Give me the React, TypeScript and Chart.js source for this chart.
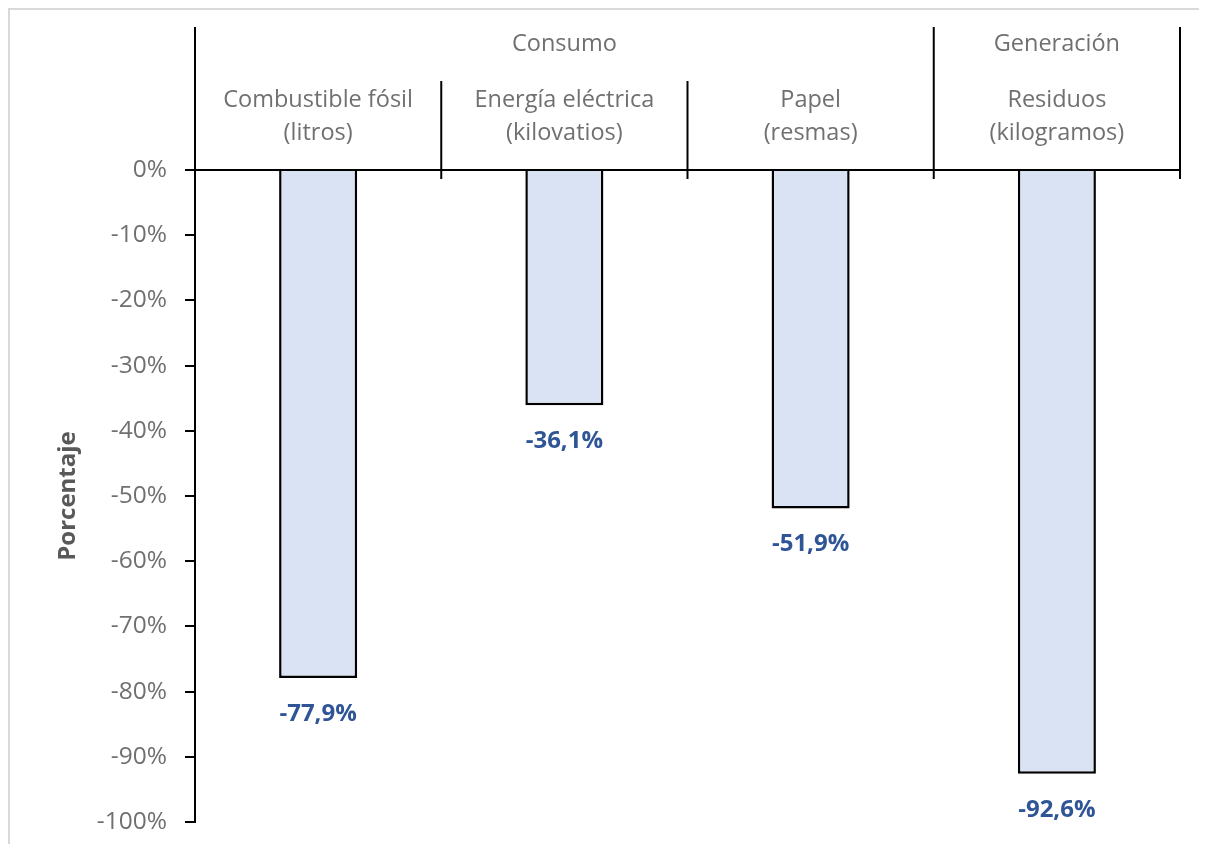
import React, { useEffect, useRef } from "react";
import { Chart, registerables } from "chart.js";

Chart.register(...registerables);

const groupLabels = ["Consumo", "Generación"];
const groupSpans = [3, 1];
const categoryLabels = [
  ["Combustible fósil", "(litros)"],
  ["Energía eléctrica", "(kilovatios)"],
  ["Papel", "(resmas)"],
  ["Residuos", "(kilogramos)"],
];
const values = [-77.9, -36.1, -51.9, -92.6];
const yTicks = [0, -10, -20, -30, -40, -50, -60, -70, -80, -90, -100];

const FONT = "'Open Sans', sans-serif";
const GRAY = "#707070";
const LABEL_BLUE = "#2F5597";

export default function App() {
  const ref = useRef<HTMLCanvasElement | null>(null);

  useEffect(() => {
    if (!ref.current) return;
    const decor = {
      id: "decor",
      afterDraw(chart: any) {
        const { ctx, chartArea } = chart;
        const ys = chart.scales.y;
        const xs = chart.scales.x;
        const left = chartArea.left;
        const right = chartArea.right;
        const n = categoryLabels.length;
        const w = (right - left) / n;
        const y0 = ys.getPixelForValue(0);
        ctx.save();
        ctx.strokeStyle = "#000";
        ctx.lineWidth = 2;
        ctx.lineCap = "butt";
        // extend y axis up
        ctx.beginPath();
        ctx.moveTo(left, 17);
        ctx.lineTo(left, chartArea.bottom + 1);
        ctx.stroke();
        // horizontal axis line at 0
        ctx.beginPath();
        ctx.moveTo(left - 10, y0);
        ctx.lineTo(right, y0);
        ctx.stroke();
        // category separators
        let acc = 0;
        const groupEnds = groupSpans.map((s) => (acc += s));
        for (let i = 1; i <= n; i++) {
          const x = left + i * w;
          const isGroup = groupEnds.includes(i);
          ctx.beginPath();
          ctx.moveTo(x, isGroup ? 17 : 71);
          ctx.lineTo(x, y0 + 9);
          ctx.stroke();
        }
        // category labels
        ctx.fillStyle = GRAY;
        ctx.textAlign = "center";
        ctx.textBaseline = "middle";
        ctx.font = `23.5px ${FONT}`;
        categoryLabels.forEach((lines, i) => {
          const cx = xs.getPixelForValue(i);
          lines.forEach((t, j) => ctx.fillText(t, cx, 90 + j * 33));
        });
        // group labels
        let start = 0;
        groupLabels.forEach((g, gi) => {
          const span = groupSpans[gi];
          const cx = left + (start + span / 2) * w;
          ctx.fillText(g, cx, 34);
          start += span;
        });
        // y title
        ctx.save();
        ctx.translate(58, (chartArea.top + chartArea.bottom) / 2);
        ctx.rotate(-Math.PI / 2);
        ctx.font = `bold 24px ${FONT}`;
        ctx.fillStyle = "#595959";
        ctx.fillText("Porcentaje", 0, 0);
        ctx.restore();
        // data labels
        const meta = chart.getDatasetMeta(0);
        ctx.font = `bold 24px ${FONT}`;
        ctx.fillStyle = LABEL_BLUE;
        meta.data.forEach((bar: any, i: number) => {
          const txt = values[i].toFixed(1).replace(".", ",") + "%";
          ctx.fillText(txt, bar.x, bar.y + 36);
        });
        ctx.restore();
      },
    };

    const chart = new Chart(ref.current, {
      type: "bar",
      data: {
        labels: categoryLabels.map((l) => l.join(" ")),
        datasets: [
          {
            data: values,
            backgroundColor: "#DAE3F3",
            borderColor: "#000",
            borderWidth: 2.5,
            barPercentage: 0.317,
            categoryPercentage: 1,
          },
        ],
      },
      plugins: [decor],
      options: {
        responsive: false,
        animation: false,
        maintainAspectRatio: false,
        layout: { padding: { top: 160, left: 0, right: 27, bottom: 22 } },
        plugins: { legend: { display: false }, tooltip: { enabled: false } },
        scales: {
          x: { display: false },
          y: {
            min: -100,
            max: 0,
            afterFit: (s: any) => {
              s.width = 185;
              s.paddingBottom = 0;
              s.paddingTop = 0;
            },
            afterBuildTicks: (s: any) => {
              s.ticks = yTicks.map((v) => ({ value: v }));
            },
            border: { display: true, color: "#000", width: 2 },
            grid: {
              drawOnChartArea: false,
              drawTicks: true,
              tickLength: 10,
              color: "#000",
              lineWidth: 2,
            },
            ticks: {
              padding: 18,
              color: GRAY,
              font: { family: FONT, size: 24.5, lineHeight: 1 },
              callback: (v: any) => `${v}%`,
            },
          },
        },
      },
    });
    return () => chart.destroy();
  }, []);

  return (
    <div
      style={{
        width: 1199,
        height: 836,
        borderTop: "2px solid #d9d9d9",
        borderLeft: "2px solid #d9d9d9",
        boxSizing: "border-box",
        background: "#fff",
      }}
    >
      <canvas ref={ref} width={1197} height={834} style={{ display: "block" }} />
    </div>
  );
}
